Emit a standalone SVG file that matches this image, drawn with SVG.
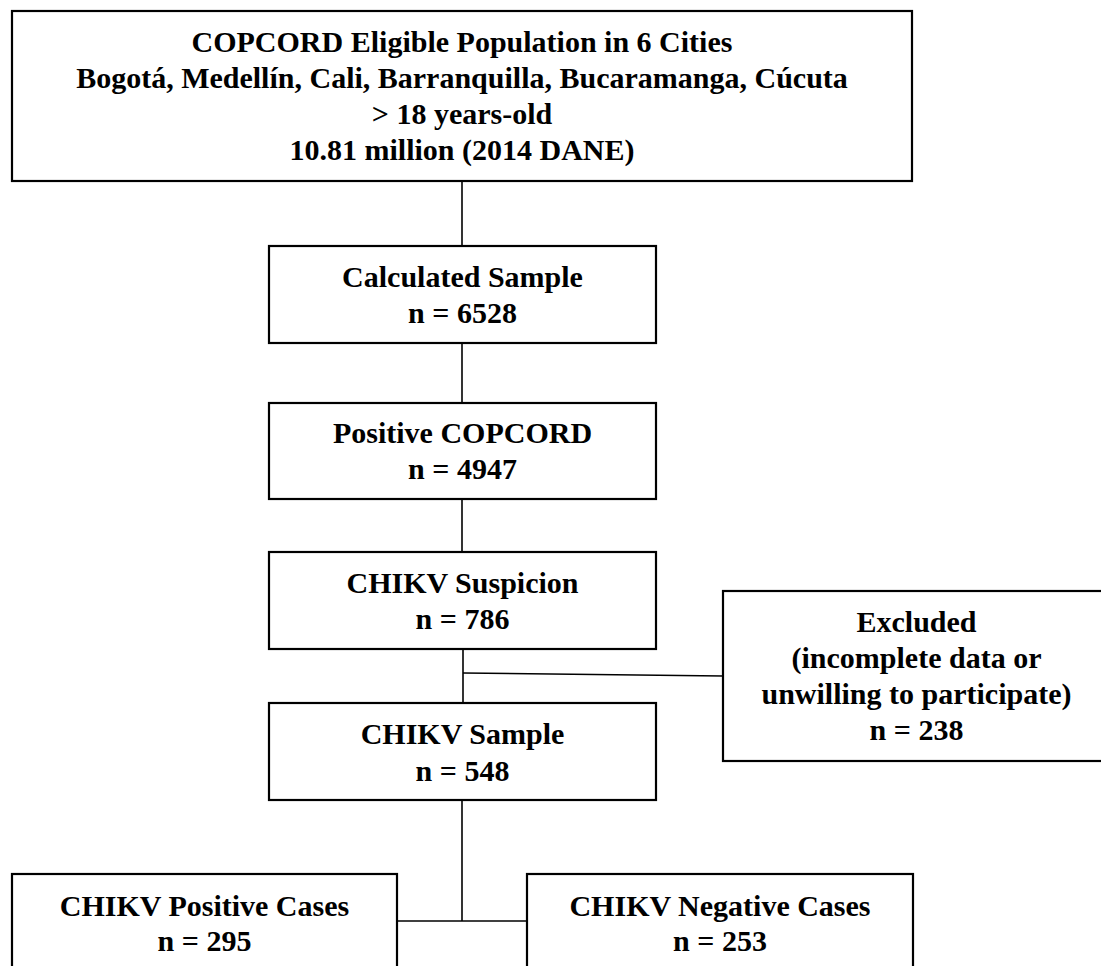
<svg xmlns="http://www.w3.org/2000/svg" width="1101" height="966" viewBox="0 0 1101 966">
<style>
.box{fill:#fff;stroke:#000;stroke-width:2.2}
.ln{fill:none;stroke:#000;stroke-width:1.6}
text{font-family:"Liberation Serif","Times New Roman",serif;font-weight:bold;font-size:30px;fill:#000;text-anchor:middle}
</style>
<rect width="1101" height="966" fill="#fff"/>
<g id="connectors">
<line class="ln" x1="462" y1="181" x2="462" y2="246"/>
<line class="ln" x1="462" y1="343" x2="462" y2="403"/>
<line class="ln" x1="462" y1="499" x2="462" y2="552"/>
<line class="ln" x1="463" y1="649" x2="463" y2="703"/>
<line class="ln" x1="463" y1="673" x2="723" y2="676"/>
<line class="ln" x1="462" y1="800" x2="462" y2="921"/>
<line class="ln" x1="397" y1="921" x2="527" y2="921"/>
</g>
<g id="population">
<rect class="box" x="12" y="11" width="900" height="170"/>
<text x="462" y="52">COPCORD Eligible Population in 6 Cities</text>
<text x="462" y="88">Bogotá, Medellín, Cali, Barranquilla, Bucaramanga, Cúcuta</text>
<text x="462" y="124">&gt; 18 years-old</text>
<text x="462" y="160">10.81 million (2014 DANE)</text>
</g>
<g id="calculated">
<rect class="box" x="269" y="246" width="387" height="97"/>
<text x="462.5" y="287">Calculated Sample</text>
<text x="462.5" y="323">n = 6528</text>
</g>
<g id="positive-copcord">
<rect class="box" x="269" y="403" width="387" height="96"/>
<text x="462.5" y="443">Positive COPCORD</text>
<text x="462.5" y="479">n = 4947</text>
</g>
<g id="suspicion">
<rect class="box" x="269" y="552" width="387" height="97"/>
<text x="462.5" y="593">CHIKV Suspicion</text>
<text x="462.5" y="629">n = 786</text>
</g>
<g id="excluded">
<rect class="box" x="723" y="591" width="390" height="170"/>
<text x="916.5" y="632">Excluded</text>
<text x="916.5" y="668">(incomplete data or</text>
<text x="916.5" y="704">unwilling to participate)</text>
<text x="916.5" y="740">n = 238</text>
</g>
<g id="sample">
<rect class="box" x="269" y="703" width="387" height="97"/>
<text x="462.5" y="744">CHIKV Sample</text>
<text x="462.5" y="781">n = 548</text>
</g>
<g id="positive-cases">
<rect class="box" x="12" y="874" width="385" height="120"/>
<text x="204.5" y="916">CHIKV Positive Cases</text>
<text x="204.5" y="951">n = 295</text>
</g>
<g id="negative-cases">
<rect class="box" x="527" y="874" width="386" height="120"/>
<text x="720" y="916">CHIKV Negative Cases</text>
<text x="720" y="951">n = 253</text>
</g>
</svg>
